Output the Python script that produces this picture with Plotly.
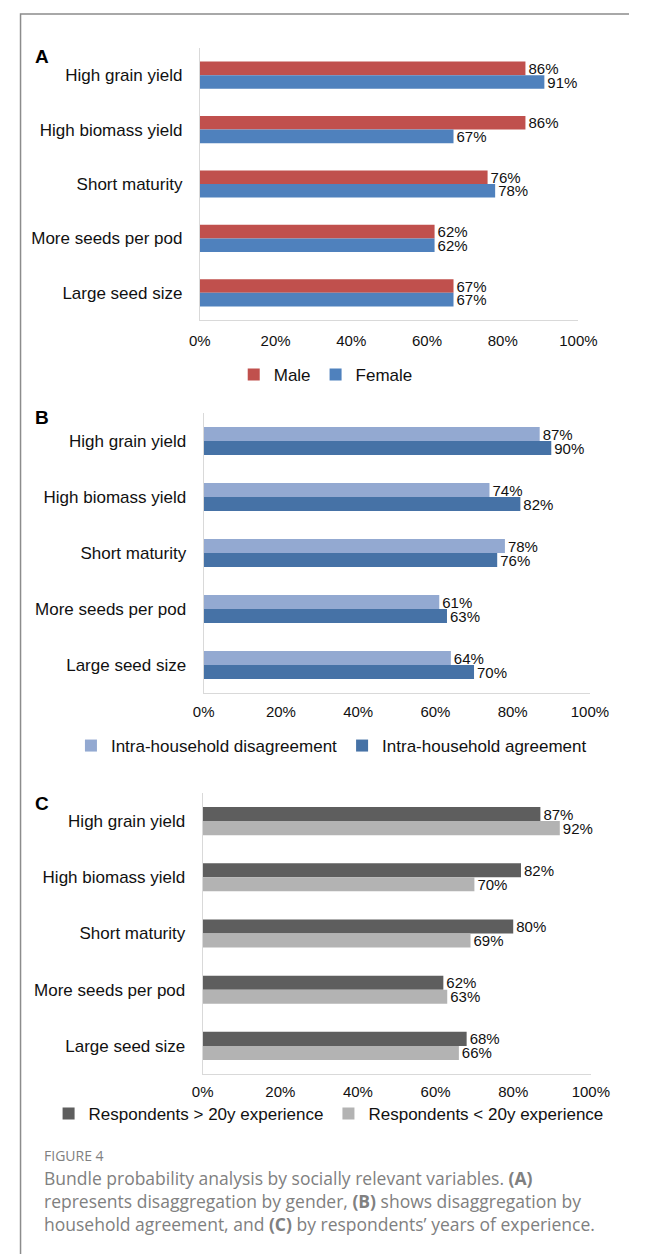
import plotly.graph_objects as go

W, H = 648, 1254

categories = ["High grain yield", "High biomass yield", "Short maturity",
              "More seeds per pod", "Large seed size"]

# Panel A: gender
male = [86, 86, 76, 62, 67]
female = [91, 67, 78, 62, 67]

# Panel B: household agreement
disagreement = [87, 74, 78, 61, 64]
agreement = [90, 82, 76, 63, 70]

# Panel C: years of experience
over20 = [87, 82, 80, 62, 68]
under20 = [92, 70, 69, 63, 66]

tick_vals = [0, 20, 40, 60, 80, 100]
tick_text = ["0%", "20%", "40%", "60%", "80%", "100%"]

FONT = "Liberation Sans, Arial, sans-serif"


def px_x(p):
    return p / W


def px_y(p):
    return 1 - p / H


fig = go.Figure()


def add_bar(name, vals, color, xa, ya, legend):
    fig.add_trace(go.Bar(
        name=name, y=categories, x=vals, orientation="h",
        marker=dict(color=color, line=dict(width=0)),
        text=[f"{v}%" for v in vals], textposition="outside",
        constraintext="none", cliponaxis=False,
        textfont=dict(family=FONT, size=15, color="#111111"),
        xaxis=xa, yaxis=ya, legend=legend,
    ))


add_bar("Male", male, "#C0504D", "x", "y", "legend")
add_bar("Female", female, "#4F81BD", "x", "y", "legend")
add_bar("Intra-household disagreement", disagreement, "#93A9D1", "x2", "y2", "legend2")
add_bar("Intra-household agreement", agreement, "#4672A6", "x2", "y2", "legend2")
add_bar("Respondents > 20y experience", over20, "#5E5E5E", "x3", "y3", "legend3")
add_bar("Respondents < 20y experience", under20, "#B3B3B3", "x3", "y3", "legend3")

panels = [
    # (x0, x1, ytop, ybottom, x tick length)
    (198, 595, 48, 320, 7),
    (202, 607, 413, 693, 5),
    (201, 608, 793, 1074, 4),
]

axis_line = "#D9D9D9"
layout = dict(
    width=W, height=H,
    margin=dict(l=0, r=0, t=0, b=0),
    paper_bgcolor="white", plot_bgcolor="white",
    barmode="group", bargap=0.5, bargroupgap=0.0,
    font=dict(family=FONT, color="#111111"),
)
for i, (x0, x1, yt, yb, tl) in enumerate(panels, start=1):
    sx = "" if i == 1 else str(i)
    layout[f"xaxis{sx}"] = dict(
        domain=[px_x(x0), px_x(x1)], anchor=f"y{sx}", range=[0, 100],
        tickvals=tick_vals, ticktext=tick_text,
        showgrid=False, zeroline=False, showline=True, linecolor=axis_line, linewidth=1,
        ticks="outside", ticklen=tl, tickcolor="rgba(0,0,0,0)",
        tickfont=dict(family=FONT, size=15, color="#111111"),
        fixedrange=True,
    )
    layout[f"yaxis{sx}"] = dict(
        domain=[px_y(yb), px_y(yt)], anchor=f"x{sx}", type="category",
        categoryorder="array", categoryarray=categories, autorange="reversed",
        showgrid=False, zeroline=False, showline=True, linecolor=axis_line, linewidth=1,
        ticks="outside", ticklen=13, tickcolor="rgba(0,0,0,0)",
        tickfont=dict(family=FONT, size=17, color="#111111"),
        fixedrange=True,
    )

legend_common = dict(orientation="h", xanchor="center", yanchor="middle",
                     font=dict(family=FONT, size=17, color="#111111"),
                     bgcolor="rgba(0,0,0,0)", itemwidth=30, tracegroupgap=0)
layout["legend"] = dict(legend_common, x=px_x(330), y=px_y(375))
layout["legend2"] = dict(legend_common, x=px_x(336), y=px_y(746))
layout["legend3"] = dict(legend_common, x=px_x(333), y=px_y(1114))

fig.update_layout(**layout)

# Panel letters
for letter, yy in [("A", 57), ("B", 417), ("C", 803)]:
    fig.add_annotation(text=f"<b>{letter}</b>", x=px_x(33), y=px_y(yy),
                       xref="paper", yref="paper", showarrow=False,
                       xanchor="center", yanchor="middle",
                       font=dict(family=FONT, size=19, color="#000000"))

# Caption
CAP_FONT = "Open Sans, Noto Sans, sans-serif"
cap_color = "#808080"
fig.add_annotation(text="FIGURE 4", x=px_x(32), y=px_y(1155), xref="paper", yref="paper",
                   showarrow=False, xanchor="left", yanchor="middle",
                   font=dict(family=CAP_FONT, size=14, color=cap_color))
caption_lines = [
    "Bundle probability analysis by socially relevant variables. <b>(A)</b>",
    "represents disaggregation by gender, <b>(B)</b> shows disaggregation by",
    "household agreement, and <b>(C)</b> by respondents\u2019 years of experience.",
]
for line, yy in zip(caption_lines, [1178, 1201, 1224]):
    fig.add_annotation(text=line, x=px_x(32), y=px_y(yy), xref="paper", yref="paper",
                       showarrow=False, xanchor="left", yanchor="middle",
                       font=dict(family=CAP_FONT, size=17.5, color=cap_color))

# Figure frame (left and top edges)
fig.add_shape(type="path", xref="paper", yref="paper",
              path=f"M {px_x(10)},0 L {px_x(10)},{px_y(14)} L 1,{px_y(14)}",
              line=dict(color="#8C8C8C", width=1.5))

fig.write_html(
    "out.html",
    config={"displayModeBar": False},
    post_script="document.body.style.margin='0';document.body.style.overflow='hidden';",
)
